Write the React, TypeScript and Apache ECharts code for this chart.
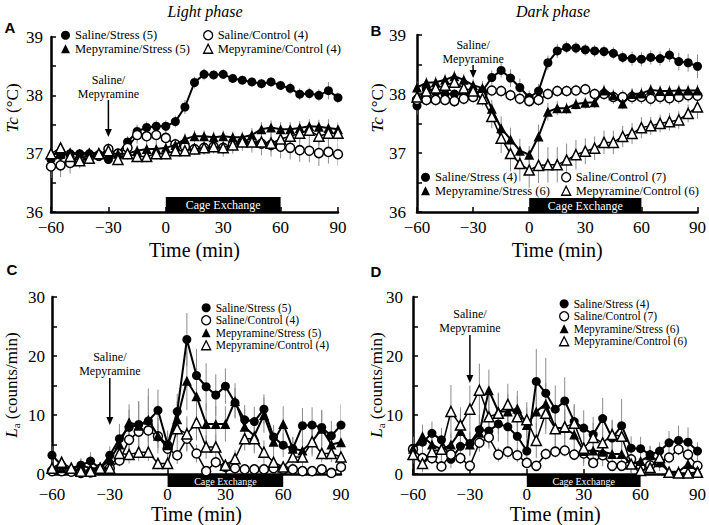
import React, { useEffect, useRef } from "react";
import * as echarts from "echarts";

const TIME = [-60, -55, -50, -45, -40, -35, -30, -25, -20, -15, -10, -5, 0, 5, 10, 15, 20, 25, 30, 35, 40, 45, 50, 55, 60, 65, 70, 75, 80, 85, 90];

// Panel A: Tc, light phase
const A_SS = [36.9, 36.97, 37.0, 37.0, 37.0, 36.95, 36.9, 37.0, 37.2, 37.38, 37.45, 37.47, 37.47, 37.55, 37.8, 38.22, 38.36, 38.35, 38.36, 38.29, 38.26, 38.23, 38.2, 38.23, 38.17, 38.12, 38.02, 38.03, 38.0, 38.08, 37.96];
const A_SC = [36.78, 36.8, 36.84, 36.9, 36.95, 36.97, 37.08, 37.0, 37.1, 37.32, 37.3, 37.32, 37.27, 37.16, 37.12, 37.08, 37.1, 37.12, 37.1, 37.15, 37.2, 37.2, 37.17, 37.15, 37.12, 37.1, 37.06, 37.05, 37.01, 37.03, 36.99];
const A_MS = [37.0, 37.0, 37.02, 37.0, 37.02, 37.0, 37.0, 37.0, 37.0, 37.05, 37.08, 37.08, 37.1, 37.15, 37.25, 37.3, 37.3, 37.28, 37.3, 37.28, 37.28, 37.32, 37.42, 37.45, 37.42, 37.42, 37.44, 37.47, 37.46, 37.44, 37.42];
const A_MC = [37.0, 37.1, 36.95, 36.88, 36.92, 37.0, 37.05, 36.9, 37.0, 36.95, 36.95, 37.0, 37.0, 37.05, 37.05, 37.08, 37.1, 37.12, 37.1, 37.15, 37.2, 37.2, 37.2, 37.18, 37.25, 37.3, 37.35, 37.4, 37.3, 37.35, 37.35];
const A_SS_E = [0.12, 0.1, 0.1, 0.08, 0.1, 0.08, 0.08, 0.1, 0.1, 0.12, 0.1, 0.1, 0.1, 0.1, 0.12, 0.1, 0.1, 0.08, 0.08, 0.08, 0.08, 0.08, 0.08, 0.08, 0.08, 0.1, 0.1, 0.1, 0.1, 0.15, 0.1];
const A_SC_E = [0.2, 0.2, 0.18, 0.15, 0.12, 0.1, 0.1, 0.08, 0.12, 0.15, 0.15, 0.15, 0.12, 0.1, 0.1, 0.1, 0.12, 0.12, 0.15, 0.15, 0.15, 0.18, 0.2, 0.2, 0.2, 0.2, 0.2, 0.2, 0.22, 0.2, 0.2];
const A_MS_E = [0.08, 0.08, 0.08, 0.08, 0.08, 0.08, 0.08, 0.08, 0.08, 0.1, 0.1, 0.1, 0.1, 0.1, 0.1, 0.1, 0.1, 0.1, 0.1, 0.1, 0.1, 0.12, 0.12, 0.12, 0.12, 0.12, 0.12, 0.12, 0.12, 0.15, 0.12];
const A_MC_E = [0.1, 0.1, 0.12, 0.12, 0.1, 0.1, 0.1, 0.1, 0.1, 0.1, 0.1, 0.1, 0.1, 0.08, 0.08, 0.08, 0.1, 0.1, 0.1, 0.1, 0.1, 0.12, 0.12, 0.15, 0.15, 0.15, 0.15, 0.15, 0.15, 0.15, 0.15];

// Panel B: Tc, dark phase
const B_SS = [37.8, 38.08, 38.03, 38.0, 38.0, 38.0, 38.02, 38.05, 38.28, 38.4, 38.27, 38.11, 37.94, 38.05, 38.53, 38.73, 38.79, 38.78, 38.75, 38.73, 38.72, 38.69, 38.62, 38.6, 38.59, 38.62, 38.6, 38.66, 38.55, 38.53, 38.47];
const B_SC = [37.9, 37.9, 37.9, 37.9, 37.88, 37.92, 37.95, 38.0, 38.06, 38.05, 37.98, 37.92, 37.88, 37.9, 38.0, 38.05, 38.05, 38.06, 38.08, 38.0, 38.0, 37.95, 37.95, 37.95, 37.95, 37.92, 37.95, 37.93, 37.95, 37.98, 37.97];
const B_MS = [38.11, 38.19, 38.2, 38.24, 38.3, 38.24, 38.15, 38.1, 37.75, 37.42, 37.23, 37.04, 36.97, 37.28, 37.7, 37.76, 37.76, 37.83, 37.85, 37.86, 38.06, 37.98, 37.84, 38.0, 38.01, 38.07, 38.05, 38.05, 38.06, 38.06, 38.06];
const B_MC = [37.95, 38.05, 38.1, 38.15, 38.2, 38.1, 38.05, 37.92, 37.62, 37.25, 36.99, 36.82, 36.71, 36.79, 36.8, 36.8, 36.88, 36.97, 37.03, 37.08, 37.18, 37.18, 37.28, 37.33, 37.43, 37.46, 37.5, 37.53, 37.56, 37.67, 37.78];
const B_SS_E = [0.15, 0.1, 0.08, 0.08, 0.08, 0.08, 0.08, 0.1, 0.12, 0.12, 0.15, 0.15, 0.12, 0.12, 0.12, 0.12, 0.1, 0.1, 0.1, 0.1, 0.1, 0.1, 0.1, 0.12, 0.12, 0.12, 0.12, 0.12, 0.15, 0.15, 0.2];
const B_SC_E = [0.1, 0.1, 0.1, 0.1, 0.1, 0.1, 0.1, 0.1, 0.1, 0.1, 0.1, 0.1, 0.1, 0.1, 0.1, 0.1, 0.1, 0.1, 0.1, 0.1, 0.1, 0.12, 0.12, 0.12, 0.12, 0.12, 0.12, 0.12, 0.12, 0.12, 0.12];
const B_MS_E = [0.1, 0.1, 0.1, 0.1, 0.1, 0.1, 0.1, 0.12, 0.15, 0.2, 0.2, 0.2, 0.15, 0.2, 0.15, 0.12, 0.1, 0.1, 0.1, 0.1, 0.1, 0.1, 0.1, 0.1, 0.1, 0.1, 0.1, 0.1, 0.1, 0.1, 0.1];
const B_MC_E = [0.1, 0.1, 0.1, 0.1, 0.1, 0.1, 0.1, 0.12, 0.2, 0.25, 0.3, 0.3, 0.3, 0.3, 0.3, 0.3, 0.28, 0.25, 0.22, 0.2, 0.2, 0.2, 0.18, 0.18, 0.18, 0.15, 0.15, 0.15, 0.15, 0.15, 0.2];

// Panel C: La, light phase
const C_SS = [3.2, 1.5, 0.7, 1.5, 2.2, 1.0, 3.2, 6.0, 7.9, 8.4, 9.0, 10.8, 5.0, 10.6, 22.8, 16.7, 14.8, 13.4, 14.9, 12.1, 9.2, 8.9, 11.0, 6.3, 4.9, 4.3, 8.2, 8.3, 7.9, 6.5, 8.3];
const C_SC = [0.5, 0.5, 0.4, 0.2, 0.3, 0.8, 1.0, 2.3, 5.8, 7.2, 7.4, 6.4, 4.3, 3.2, 6.0, 3.5, 0.5, 2.0, 1.2, 1.0, 0.8, 0.8, 0.8, 1.0, 0.8, 0.8, 0.5, 0.5, 0.8, 0.2, 1.2];
const C_MS = [1.0, 1.0, 1.0, 1.5, 1.0, 1.0, 2.5, 5.0, 8.8, 8.2, 9.2, 6.5, 4.9, 9.3, 15.8, 13.2, 8.5, 8.5, 8.5, 12.4, 8.0, 6.5, 10.0, 5.5, 8.5, 4.3, 4.0, 5.5, 7.7, 5.0, 5.4];
const C_MC = [1.0, 2.0, 1.0, 0.5, 0.5, 1.0, 1.0, 3.5, 3.3, 3.7, 3.7, 1.8, 1.8, 7.7, 6.8, 8.7, 4.6, 4.6, 1.5, 2.6, 6.0, 6.0, 3.7, 2.0, 1.2, 2.9, 2.9, 5.5, 3.5, 3.5, 2.9];
const C_SS_E = [1.5, 1, 0.8, 1.2, 1.5, 1, 1.5, 2.5, 3, 4, 5.5, 3.5, 2, 3, 4.5, 4.5, 4, 3.5, 3, 2.5, 2.5, 2.5, 2.5, 2, 2, 2, 3, 3, 3, 2.5, 3.5];
const C_SC_E = [0.5, 0.5, 0.3, 0.3, 0.3, 0.5, 0.5, 1, 2, 2, 2, 2, 1.5, 1.5, 2, 1.5, 0.5, 1, 0.5, 0.5, 0.5, 0.5, 0.5, 0.5, 0.5, 0.5, 0.3, 0.3, 0.5, 0.3, 0.5];
const C_MS_E = [1, 1, 1, 1, 1, 1, 1.5, 2.5, 3, 4, 4, 3, 2.5, 3, 5, 4, 3.5, 3, 3, 3, 3, 3, 3, 2.5, 3, 2, 2, 2.5, 3, 2.5, 2.5];
const C_MC_E = [0.5, 1, 0.5, 0.5, 0.5, 0.5, 0.5, 1, 1.5, 1.5, 1.5, 1, 1, 3, 3, 3, 2, 2, 1, 1.5, 2, 2, 2, 1, 1, 1.5, 1.5, 2, 1.5, 1.5, 1.5];

// Panel D: La, dark phase
const D_SS = [4.4, 5.4, 6.9, 5.8, 2.5, 4.7, 5.2, 7.5, 7.3, 8.5, 8.0, 6.4, 3.9, 15.7, 13.7, 11.0, 12.4, 8.9, 7.8, 6.7, 9.4, 6.1, 8.2, 4.4, 4.3, 3.3, 3.9, 5.3, 5.7, 5.4, 3.9];
const D_SC = [4.2, 2.7, 2.7, 1.3, 3.3, 2.7, 1.4, 5.3, 6.2, 3.3, 3.8, 3.2, 1.9, 1.4, 3.4, 3.8, 4.0, 3.3, 3.5, 1.9, 3.2, 1.4, 1.4, 2.5, 1.1, 1.5, 2.0, 2.8, 4.2, 3.3, 1.4];
const D_MS = [4.3, 6.4, 5.0, 4.2, 5.0, 7.3, 5.0, 7.0, 14.2, 10.6, 10.6, 11.1, 8.3, 10.6, 11.9, 7.8, 7.8, 6.7, 3.9, 4.0, 3.8, 3.4, 3.4, 1.7, 2.2, 3.2, 2.0, 0.4, 0.4, 1.7, 0.6];
const D_MC = [3.3, 1.8, 3.8, 4.2, 10.6, 8.3, 11.0, 14.2, 9.7, 10.3, 11.8, 9.7, 9.2, 5.7, 10.3, 7.7, 8.0, 8.6, 4.4, 6.2, 5.3, 6.7, 6.4, 1.7, 0.6, 1.1, 2.8, 0.3, 0.2, 0.2, 0.3];
const D_SS_E = [2, 2, 2, 2, 1.5, 2, 2, 2.5, 3, 3, 3, 2.5, 2, 5.5, 6, 4, 4, 3, 3, 3, 3.5, 3, 4.5, 2, 2, 1.5, 1.5, 2, 2.5, 2.5, 1.5];
const D_SC_E = [1, 1, 1, 0.8, 1, 1, 0.8, 1.5, 1.5, 1.2, 1.2, 1.2, 1, 0.8, 1, 1, 1, 1, 1, 0.8, 1, 0.8, 0.8, 1, 0.8, 0.8, 1, 1, 1, 1, 0.8];
const D_MS_E = [2, 2, 2, 2, 2, 3, 2, 3, 3.5, 3, 3, 3, 3, 3, 3.5, 3, 3, 3, 2.5, 2.5, 2.5, 2.5, 2.5, 1.5, 1.5, 1.5, 1.5, 1, 1, 1, 1];
const D_MC_E = [1.5, 1.5, 2, 2.5, 4.5, 3, 4, 4.5, 4, 3.5, 3.5, 3.5, 3, 3, 3.5, 3, 3, 3, 2.5, 2.5, 2.5, 2.5, 2.5, 1.5, 1, 1, 1.5, 0.5, 0.5, 0.5, 0.5];

const NAMES_AC = ["Saline/Stress (5)", "Saline/Control (4)", "Mepyramine/Stress (5)", "Mepyramine/Control (4)"];
const NAMES_BD = ["Saline/Stress (4)", "Saline/Control (7)", "Mepyramine/Stress (6)", "Mepyramine/Control (6)"];

const PANEL_DATA = [
  { names: NAMES_AC, values: [A_SS, A_SC, A_MS, A_MC], errors: [A_SS_E, A_SC_E, A_MS_E, A_MC_E] },
  { names: NAMES_BD, values: [B_SS, B_SC, B_MS, B_MC], errors: [B_SS_E, B_SC_E, B_MS_E, B_MC_E] },
  { names: NAMES_AC, values: [C_SS, C_SC, C_MS, C_MC], errors: [C_SS_E, C_SC_E, C_MS_E, C_MC_E] },
  { names: NAMES_BD, values: [D_SS, D_SC, D_MS, D_MC], errors: [D_SS_E, D_SC_E, D_MS_E, D_MC_E] },
];

const SERIF = "'Liberation Serif', 'Times New Roman', serif";
const SANS = "'Liberation Sans', Arial, sans-serif";

// series styles: SS, SC, MS, MC
const KIND = [
  { symbol: "circle", fill: "#000", size: 9, width: 2 },
  { symbol: "circle", fill: "#fff", size: 9, width: 1.5 },
  { symbol: "triangle", fill: "#000", size: 10, width: 2 },
  { symbol: "triangle", fill: "#fff", size: 10, width: 1.5 },
];

const LAYOUT = [
  { grid: { left: 51, top: 37, width: 287, height: 175 }, y: [36, 39, 1], ylm: 8, xlm: 7, gap: 28, barTop: 197, barH: 15, barFont: 12, annY: 87, arrowTop: 100, arrowTip: 137 },
  { grid: { left: 417, top: 35, width: 283, height: 177 }, y: [36, 39, 1], ylm: 11, xlm: 7, gap: 28, barTop: 198, barH: 14, barFont: 12, annY: 52, arrowTop: 65, arrowTip: 78 },
  { grid: { left: 52, top: 297, width: 289, height: 179 }, y: [0, 30, 10], ylm: 7, xlm: 12, gap: 22, barTop: 475, barH: 12, barFont: 10, annY: 364, arrowTop: 378, arrowTip: 425 },
  { grid: { left: 413, top: 297, width: 288, height: 180 }, y: [0, 30, 10], ylm: 10, xlm: 12, gap: 22, barTop: 475, barH: 12, barFont: 10, annY: 320.5, arrowTop: 335, arrowTip: 383 },
];

const fmtMinus = (v: number) => (v < 0 ? "\u2212" + Math.abs(v) : String(v));

function legendItem(name: string, k: number) {
  const s = KIND[k];
  return {
    name,
    icon: s.symbol,
    itemStyle: { color: s.fill, borderColor: "#000", borderWidth: s.fill === "#fff" ? 1.3 : 0 },
  };
}

function buildOption() {
  const grid: any[] = [];
  const xAxis: any[] = [];
  const yAxis: any[] = [];
  const series: any[] = [];
  LAYOUT.forEach((L, i) => {
    grid.push({ ...L.grid, containLabel: false });
    xAxis.push({
      type: "value",
      gridIndex: i,
      min: -60,
      max: 90,
      interval: 30,
      name: "Time (min)",
      nameLocation: "middle",
      nameGap: L.gap,
      nameTextStyle: { fontFamily: SERIF, fontSize: 20, color: "#000" },
      axisLine: { show: true, onZero: false, lineStyle: { color: "#000", width: 2.5 } },
      axisTick: { show: true, inside: true, length: 5, lineStyle: { color: "#000", width: 1.5 } },
      axisLabel: { fontFamily: SERIF, fontSize: 17, color: "#000", margin: L.xlm, formatter: fmtMinus },
      splitLine: { show: false },
    });
    yAxis.push({
      type: "value",
      gridIndex: i,
      min: L.y[0],
      max: L.y[1],
      interval: L.y[2],
      axisLine: { show: true, onZero: false, lineStyle: { color: "#000", width: 2.5 } },
      axisTick: { show: true, inside: true, length: 5, lineStyle: { color: "#000", width: 1.5 } },
      minorTick: { show: true, splitNumber: 2, length: 5, lineStyle: { color: "#000", width: 1.5 } },
      axisLabel: { fontFamily: SERIF, fontSize: 17, color: "#000", margin: L.ylm },
      splitLine: { show: false },
    });
    const P = PANEL_DATA[i];
    P.values.forEach((vals, k) => {
      const errs = P.errors[k];
      series.push({
        type: "custom",
        xAxisIndex: i,
        yAxisIndex: i,
        z: 2,
        silent: true,
        clip: true,
        encode: { x: 0, y: [1, 2] },
        data: TIME.map((t, j) => [t, vals[j] - errs[j], vals[j] + errs[j]]),
        renderItem: (params: any, api: any) => {
          const x = api.value(0);
          const p1 = api.coord([x, api.value(1)]);
          const p2 = api.coord([x, api.value(2)]);
          return {
            type: "line",
            shape: { x1: p1[0], y1: p1[1], x2: p2[0], y2: p2[1] },
            style: { stroke: "#8c8c8c", lineWidth: 1 },
          };
        },
      });
    });
    const order = [1, 3, 2, 0];
    order.forEach((k) => {
      const s = KIND[k];
      series.push({
        type: "line",
        name: P.names[k],
        xAxisIndex: i,
        yAxisIndex: i,
        z: 3 + k,
        data: TIME.map((t, j) => [t, P.values[k][j]]),
        symbol: s.symbol,
        symbolSize: s.size,
        showSymbol: true,
        showAllSymbol: true,
        lineStyle: { color: "#000", width: s.width },
        itemStyle: { color: s.fill, borderColor: "#000", borderWidth: s.fill === "#fff" ? 1.5 : 0 },
        emphasis: { disabled: true },
        silent: true,
      });
    });
  });

  const legBase = {
    orient: "vertical",
    padding: 0,
    itemGap: 0,
    itemWidth: 9,
    itemHeight: 9,
    selectedMode: false,
  };
  const ts = (size: number, lh: number) => ({ fontFamily: SERIF, fontSize: size, color: "#000", lineHeight: lh, padding: [0, 0, 0, 0] });
  const legend = [
    { ...legBase, left: 61, top: 28.5, textStyle: ts(12.5, 13.5), data: [legendItem(NAMES_AC[0], 0), legendItem(NAMES_AC[2], 2)] },
    { ...legBase, left: 203, top: 28.5, textStyle: ts(12.5, 13.5), data: [legendItem(NAMES_AC[1], 1), legendItem(NAMES_AC[3], 3)] },
    { ...legBase, left: 421, top: 170.5, textStyle: ts(12.5, 13.5), data: [legendItem(NAMES_BD[0], 0), legendItem(NAMES_BD[2], 2)] },
    { ...legBase, left: 561, top: 170.5, textStyle: ts(12.5, 13.5), data: [legendItem(NAMES_BD[1], 1), legendItem(NAMES_BD[3], 3)] },
    { ...legBase, left: 201, top: 301.5, textStyle: ts(11.5, 12.5), data: [0, 1, 2, 3].map((k) => legendItem(NAMES_AC[k], k)) },
    { ...legBase, left: 559, top: 297.5, textStyle: ts(11.5, 12.5), data: [0, 1, 2, 3].map((k) => legendItem(NAMES_BD[k], k)) },
  ];

  return { animation: false, backgroundColor: "#fff", grid, xAxis, yAxis, series, legend };
}

function txt(x: number, y: number, text: string, font: string, extra: any = {}) {
  return {
    type: "text",
    x,
    y,
    silent: true,
    style: {
      text,
      font,
      fill: "#000",
      align: "center",
      verticalAlign: "middle",
      textAlign: "center",
      textVerticalAlign: "middle",
      ...extra,
    },
  };
}

function buildGraphics(chart: any) {
  const els: any[] = [];
  els.push(txt(205, 11, "Light phase", `italic 16px ${SERIF}`));
  els.push(txt(553, 11, "Dark phase", `italic 16px ${SERIF}`));
  els.push(txt(10, 27, "A", `bold 15px ${SANS}`));
  els.push(txt(376, 30, "B", `bold 15px ${SANS}`));
  els.push(txt(12, 269, "C", `bold 15px ${SANS}`));
  els.push(txt(376, 271, "D", `bold 15px ${SANS}`));

  const tcRich = {
    i: { fontFamily: SERIF, fontSize: 17, fontStyle: "italic", fill: "#000", lineHeight: 20 },
    n: { fontFamily: SERIF, fontSize: 17, fill: "#000", lineHeight: 20 },
  };
  const laRich = {
    i: { fontFamily: SERIF, fontSize: 17, fontStyle: "italic", fill: "#000", lineHeight: 20 },
    s: { fontFamily: SERIF, fontSize: 11, fill: "#000", lineHeight: 12, verticalAlign: "bottom" },
    n: { fontFamily: SERIF, fontSize: 17, fill: "#000", lineHeight: 20 },
  };
  const yTitle = (x: number, y: number, text: string, rich: any) => ({
    type: "text",
    x,
    y,
    rotation: Math.PI / 2,
    silent: true,
    style: { text, rich, align: "center", verticalAlign: "middle", textAlign: "center", textVerticalAlign: "middle" },
  });
  els.push(yTitle(12, 108, "{i|Tc}{n| (°C)}", tcRich));
  els.push(yTitle(377, 108, "{i|Tc}{n| (°C)}", tcRich));
  els.push(yTitle(11, 385, "{i|L}{s|a}{n| (counts/min)}", laRich));
  els.push(yTitle(376, 385, "{i|L}{s|a}{n| (counts/min)}", laRich));

  LAYOUT.forEach((L, i) => {
    const x0 = chart.convertToPixel({ xAxisIndex: i }, 0);
    const x60 = chart.convertToPixel({ xAxisIndex: i }, 60);
    const xm30 = chart.convertToPixel({ xAxisIndex: i }, -30);
    els.push({
      type: "rect",
      silent: true,
      shape: { x: x0, y: L.barTop, width: x60 - x0, height: L.barH },
      style: { fill: "#000" },
      z: 10,
    });
    els.push({ ...txt((x0 + x60) / 2, L.barTop + L.barH / 2 + 0.5, "Cage Exchange", `${L.barFont}px ${SERIF}`, { fill: "#fff" }), z: 11 });
    els.push(txt(xm30, L.annY, "Saline/\nMepyramine", `12px ${SERIF}`, { lineHeight: 14 }));
    els.push({
      type: "line",
      silent: true,
      shape: { x1: xm30, y1: L.arrowTop, x2: xm30, y2: L.arrowTip - 5 },
      style: { stroke: "#000", lineWidth: 1.5 },
    });
    els.push({
      type: "polygon",
      silent: true,
      shape: { points: [[xm30 - 3.5, L.arrowTip - 8], [xm30 + 3.5, L.arrowTip - 8], [xm30, L.arrowTip]] },
      style: { fill: "#000" },
    });
  });
  return els;
}

export default function App() {
  const ref = useRef<HTMLDivElement>(null);
  useEffect(() => {
    const chart = echarts.init(ref.current!, null, { renderer: "svg" });
    chart.setOption(buildOption() as any);
    chart.setOption({ graphic: { elements: buildGraphics(chart) } } as any);
    return () => chart.dispose();
  }, []);
  return <div ref={ref} style={{ position: "fixed", left: 0, top: 0, width: 709, height: 525 }} />;
}
